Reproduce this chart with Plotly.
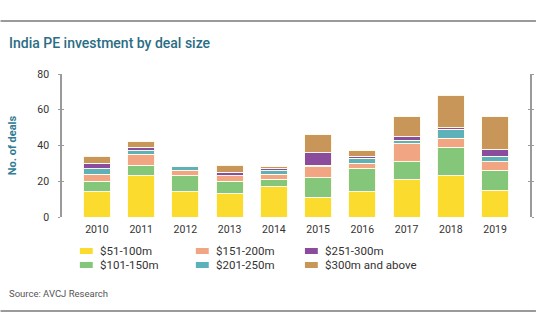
import plotly.graph_objects as go

years = ["2010", "2011", "2012", "2013", "2014", "2015", "2016", "2017", "2018", "2019"]
series_names = ["$51-100m", "$101-150m", "$151-200m", "$201-250m", "$251-300m", "$300m and above"]
deals_51_100 = [14, 23, 14, 13, 17, 11, 14, 21, 23, 15]
deals_101_150 = [6, 6, 9, 7, 4, 11, 13, 10, 16, 11]
deals_151_200 = [4, 6, 3, 3, 3, 6, 3, 10, 5, 5]
deals_201_250 = [3, 2, 2, 0, 2, 1, 3, 2, 5, 3]
deals_251_300 = [3, 2, 0, 2, 1, 7, 1, 2, 1, 4]
deals_300_up = [4, 3, 0, 4, 1, 10, 3, 11, 18, 18]
series_values = [deals_51_100, deals_101_150, deals_151_200, deals_201_250, deals_251_300, deals_300_up]
colors = ["#fbdc2e", "#84c67a", "#f2a583", "#5cb2b8", "#8b4c9e", "#c99659"]
y_ticks = [0, 20, 40, 60, 80]

W, H = 540, 334
ML, MR, MT, MB = 62, 6, 74, 117
PW, PH = W - ML - MR, H - MT - MB


def px(x):
    return (x - ML) / PW


def py(y):
    return (H - MB - y) / PH


FONT = "Roboto"
fig = go.Figure()
for name, vals, col in zip(series_names, series_values, colors):
    fig.add_trace(go.Bar(
        x=years, y=vals, name=name, showlegend=False,
        marker=dict(color=col, line=dict(color="rgba(255,252,235,0.95)", width=1)),
    ))

shapes = [
    dict(type="line", xref="paper", yref="paper", x0=px(0), x1=px(W), y0=py(21), y1=py(21),
         line=dict(color="#9a9a9a", width=2)),
    dict(type="line", xref="paper", yref="paper", x0=px(0), x1=px(W), y0=py(311), y1=py(311),
         line=dict(color="#9a9a9a", width=2)),
]
annotations = [
    dict(text="India PE investment by deal size", xref="paper", yref="paper",
         x=px(7), y=py(43), xanchor="left", yanchor="middle", showarrow=False,
         font=dict(family=FONT, size=14, color="#2a6d84", weight=500)),
    dict(text="Source: AVCJ Research", xref="paper", yref="paper",
         x=px(7), y=py(293), xanchor="left", yanchor="middle", showarrow=False,
         font=dict(family=FONT, size=9.5, color="#555555")),
]

# legend laid out in three columns, two rows (column-major)
col_x = [80, 197, 307]
row_y = [251, 265]
for i, (name, col) in enumerate(zip(series_names, colors)):
    cx = col_x[i // 2]
    ry = row_y[i % 2]
    shapes.append(dict(type="rect", xref="paper", yref="paper",
                       x0=px(cx), x1=px(cx + 13), y0=py(ry - 3), y1=py(ry + 3),
                       fillcolor=col, line=dict(width=0)))
    annotations.append(dict(text=name, xref="paper", yref="paper",
                            x=px(cx + 18), y=py(ry), xanchor="left", yanchor="middle",
                            showarrow=False, font=dict(family=FONT, size=11.5, color="#333333")))

fig.update_layout(
    width=W, height=H,
    margin=dict(l=ML, r=MR, t=MT, b=MB),
    paper_bgcolor="white", plot_bgcolor="white",
    barmode="stack", bargap=0.39,
    font=dict(family=FONT, size=10.5, color="#333333"),
    shapes=shapes, annotations=annotations,
    xaxis=dict(range=[-0.79, 9.79], showline=False, ticks="", showgrid=False,
               tickfont=dict(family=FONT, size=10.5, color="#333333"), ticklabelstandoff=4),
    yaxis=dict(range=[0, 80], tickvals=y_ticks, showgrid=False, zeroline=False,
               showline=True, linecolor="#9a9a9a", linewidth=1.5, mirror="ticks",
               ticks="outside", ticklen=2, tickcolor="#9a9a9a", tickwidth=1,
               tickfont=dict(family=FONT, size=10.5, color="#333333"), ticklabelstandoff=7,
               title=dict(text="No. of deals", standoff=18,
                          font=dict(family=FONT, size=11, color="#2f7c94", weight="bold"))),
    yaxis2=dict(range=[0, 80], tickvals=y_ticks, overlaying="y", side="left",
                showgrid=False, zeroline=False, showline=False, showticklabels=False,
                mirror="ticks", ticks="inside", ticklen=2, tickcolor="#9a9a9a", tickwidth=1),
)
fig.add_trace(go.Scatter(x=[years[0]], y=[None], yaxis="y2", showlegend=False, hoverinfo="skip"))

fig.write_html("out.html")
